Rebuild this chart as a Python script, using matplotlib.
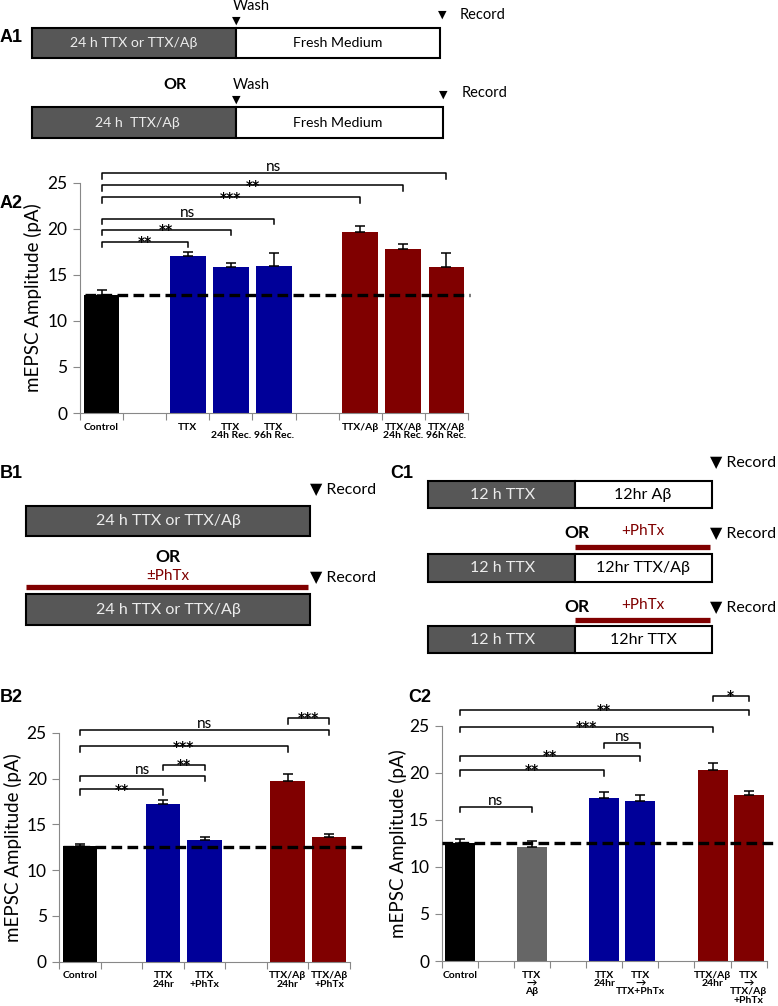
import numpy as np
import matplotlib.pyplot as plt
from matplotlib.patches import Rectangle

plt.rcParams['font.family'] = ['Lato', 'DejaVu Sans']

BLACK, GREY, BLUE, RED = 'black', '#666666', '#000099', '#800000'

# ---- A2 data ----
a2_labels = ['Control', '', 'TTX', 'TTX\n24h Rec.', 'TTX\n96h Rec.', '',
             'TTX/Aβ', 'TTX/Aβ\n24h Rec.', 'TTX/Aβ\n96h Rec.']
a2_means = [12.8, None, 17.0, 15.85, 16.0, None, 19.7, 17.8, 15.85]
a2_err = [0.6, 0, 0.5, 0.45, 1.4, 0, 0.55, 0.55, 1.55]
a2_colors = [BLACK, None, BLUE, BLUE, BLUE, None, RED, RED, RED]
a2_sig = [(0, 2, 18.6, '**'), (0, 3, 19.9, '**'), (0, 4, 21.1, 'ns'),
          (0, 6, 23.4, '***'), (0, 7, 24.7, '**'), (0, 8, 26.0, 'ns')]
a2_base = 12.8

# ---- B2 data ----
b2_labels = ['Control', '', 'TTX\n24hr', 'TTX\n+PhTx', '', 'TTX/Aβ\n24hr', 'TTX/Aβ\n+PhTx']
b2_means = [12.6, None, 17.2, 13.25, None, 19.7, 13.65]
b2_err = [0.22, 0, 0.47, 0.4, 0, 0.77, 0.3]
b2_colors = [BLACK, None, BLUE, BLUE, None, RED, RED]
b2_sig = [(0, 2, 18.8, '**'), (0, 3, 20.3, 'ns'), (2, 3, 21.5, '**'),
          (0, 5, 23.5, '***'), (0, 6, 25.3, 'ns'), (5, 6, 26.6, '***')]
b2_base = 12.5

# ---- C2 data ----
c2_labels = ['Control', '', 'TTX\n→\nAβ', '', 'TTX\n24hr', 'TTX\n→\nTTX+PhTx', '',
             'TTX/Aβ\n24hr', 'TTX\n→\nTTX/Aβ\n+PhTx']
c2_means = [12.57, None, 12.15, None, 17.3, 16.97, None, 20.27, 17.67]
c2_err = [0.4, 0, 0.57, 0, 0.64, 0.67, 0, 0.8, 0.36]
c2_colors = [BLACK, None, GREY, None, BLUE, BLUE, None, RED, RED]
c2_sig = [(0, 2, 16.4, 'ns'), (0, 4, 20.3, '**'), (0, 5, 21.8, '**'),
          (4, 5, 23.2, 'ns'), (0, 7, 24.9, '***'), (0, 8, 26.7, '**'),
          (7, 8, 28.2, '*')]
c2_base = 12.5


def bar_panel(ax, labels, means, errs, colors, sigs, base, base_x):
    n = len(labels)
    idx = [i for i, m in enumerate(means) if m is not None]
    x = np.array(idx) + 0.5
    h = np.array([means[i] for i in idx])
    e = np.array([errs[i] for i in idx])
    ax.bar(x, h, width=0.83, color=[colors[i] for i in idx], zorder=2)
    ax.errorbar(x, h, yerr=[np.zeros(len(e)), e], fmt='none', ecolor='black',
                elinewidth=1.1, capsize=3.5, capthick=1.1, zorder=3)
    ax.plot(base_x, [base, base], color='black', lw=2.4, ls=(0, (3.2, 1.6)),
            clip_on=False, zorder=4)
    for i, j, y, s in sigs:
        xi, xj = i + 0.5, j + 0.5
        ax.plot([xi, xi, xj, xj], [y - 0.6, y, y, y - 0.6], color='black',
                lw=1.1, clip_on=False)
        if s == 'ns':
            ax.annotate(s, xy=((xi + xj) / 2, y), xytext=(0, 1.5),
                        textcoords='offset points', ha='center', va='baseline',
                        fontsize=11, annotation_clip=False)
        else:
            ax.annotate(s, xy=((xi + xj) / 2, y), xytext=(0, -3),
                        textcoords='offset points', ha='center', va='baseline',
                        fontsize=10, fontweight='bold', family='DejaVu Sans',
                        annotation_clip=False)
    ax.set_xlim(0, n)
    ax.set_ylim(0, 25)
    ax.set_yticks([0, 5, 10, 15, 20, 25])
    ax.set_xticks(np.arange(n + 1))
    ax.set_xticklabels([])
    ax.set_xticks(np.arange(n) + 0.5, minor=True)
    ax.set_xticklabels(labels, minor=True, fontsize=7.5, fontweight='bold',
                       linespacing=0.9)
    ax.tick_params(axis='x', which='minor', length=0, pad=7)
    ax.tick_params(axis='x', which='major', length=5, color='#888888')
    ax.tick_params(axis='y', length=5, color='#888888', labelsize=12.5, pad=4)
    for sp in ['top', 'right']:
        ax.spines[sp].set_visible(False)
    for sp in ['left', 'bottom']:
        ax.spines[sp].set_color('#888888')
    ax.set_ylabel('mEPSC Amplitude (pA)', fontsize=13.5, va='center')


fig = plt.figure(figsize=(7.78, 10.06), dpi=100)

# overlay for the schematics, in pixel coordinates
ov = fig.add_axes([0, 0, 1, 1])
ov.set_xlim(0, 778)
ov.set_ylim(1006, 0)
ov.axis('off')
ov.patch.set_alpha(0)

DARK = '#575757'
LIGHT_TXT = '#ececec'


def box(x0, x1, y0, y1, fc):
    ov.add_patch(Rectangle((x0, y0), x1 - x0, y1 - y0, fc=fc, ec='black', lw=1.5))


def txt(x, y, s, size=11, **kw):
    ov.text(x, y, s, fontsize=size, ha=kw.pop('ha', 'center'), va='center', **kw)


# A1
box(32, 236, 28, 58, DARK)
box(236, 440, 28, 58, 'white')
txt(134, 43, '24 h TTX or TTX/Aβ', 10.2, color=LIGHT_TXT)
txt(338, 43, 'Fresh Medium', 10.2)
txt(233, 6, 'Wash', 10.5, ha='left')
txt(236, 21, '▼', 8, family='DejaVu Sans')
txt(442, 15, '▼', 8, family='DejaVu Sans')
txt(460, 15, 'Record', 10.5, ha='left')
txt(175, 85, 'OR', 11.5, fontweight='bold')
txt(233, 85, 'Wash', 10.5, ha='left')
txt(236, 100, '▼', 8, family='DejaVu Sans')
txt(443, 95, '▼', 8, family='DejaVu Sans')
txt(462, 93, 'Record', 10.5, ha='left')
box(32, 236, 107, 138, DARK)
box(236, 443, 107, 138, 'white')
txt(137, 122.5, '24 h  TTX/Aβ', 10.2, color=LIGHT_TXT)
txt(338, 122.5, 'Fresh Medium', 10.2)

# B1
txt(310, 489, '▼ Record', 11.5, ha='left')
box(26, 310, 506, 536, DARK)
txt(168, 521, '24 h TTX or TTX/Aβ', 11.5, color=LIGHT_TXT)
txt(168, 557, 'OR', 12.5, fontweight='bold')
txt(168, 576, '±PhTx', 11, color=RED)
ov.plot([26, 308], [587, 587], color=RED, lw=3.8, solid_capstyle='butt')
txt(310, 577, '▼ Record', 11.5, ha='left')
box(26, 310, 594, 625, DARK)
txt(168, 610, '24 h TTX or TTX/Aβ', 11.5, color=LIGHT_TXT)

# C1
c1_rows = [(481, 508, '12hr Aβ'), (554, 582, '12hr TTX/Aβ'), (626, 653, '12hr TTX')]
for y0, y1, right in c1_rows:
    box(428, 575, y0, y1, DARK)
    box(575, 712, y0, y1, 'white')
    txt(503, (y0 + y1) / 2, '12 h TTX', 11.5, color=LIGHT_TXT)
    txt(643, (y0 + y1) / 2, right, 11.5)
txt(710, 462, '▼ Record', 11.5, ha='left')
for ytxt, yline in [(531, 547), (605, 620)]:
    txt(577, ytxt + 2, 'OR', 12.5, fontweight='bold')
    txt(643, ytxt, '+PhTx', 11, color=RED)
    txt(710, ytxt + 2, '▼ Record', 11.5, ha='left')
    ov.plot([575, 710], [yline, yline], color=RED, lw=3.8, solid_capstyle='butt')

# panel letters
for x, y, s in [(0, 37, 'A1'), (0, 203, 'A2'), (0, 473, 'B1'), (0, 698, 'B2'),
                (390, 473, 'C1'), (408, 697, 'C2')]:
    ov.text(x, y, s, fontsize=13, fontweight='bold', family='Liberation Sans',
            ha='left', va='center')

# bar charts
ax_a = fig.add_axes([80 / 778, 1 - 413 / 1006, 388 / 778, 230.3 / 1006])
bar_panel(ax_a, a2_labels, a2_means, a2_err, a2_colors, a2_sig, a2_base, [0.12, 9.05])
ax_a.yaxis.set_label_coords(-0.121, 0.5)

ax_b = fig.add_axes([59.3 / 778, 1 - 961.7 / 1006, 290.7 / 778, 229 / 1006])
bar_panel(ax_b, b2_labels, b2_means, b2_err, b2_colors, b2_sig, b2_base, [0.08, 7.36])
ax_b.yaxis.set_label_coords(-0.159, 0.5)

ax_c = fig.add_axes([441.7 / 778, 1 - 961 / 1006, 325 / 778, 235.3 / 1006])
bar_panel(ax_c, c2_labels, c2_means, c2_err, c2_colors, c2_sig, c2_base, [0.0, 9.31])
ax_c.yaxis.set_label_coords(-0.134, 0.5)

fig.savefig('out.png', dpi=100)
